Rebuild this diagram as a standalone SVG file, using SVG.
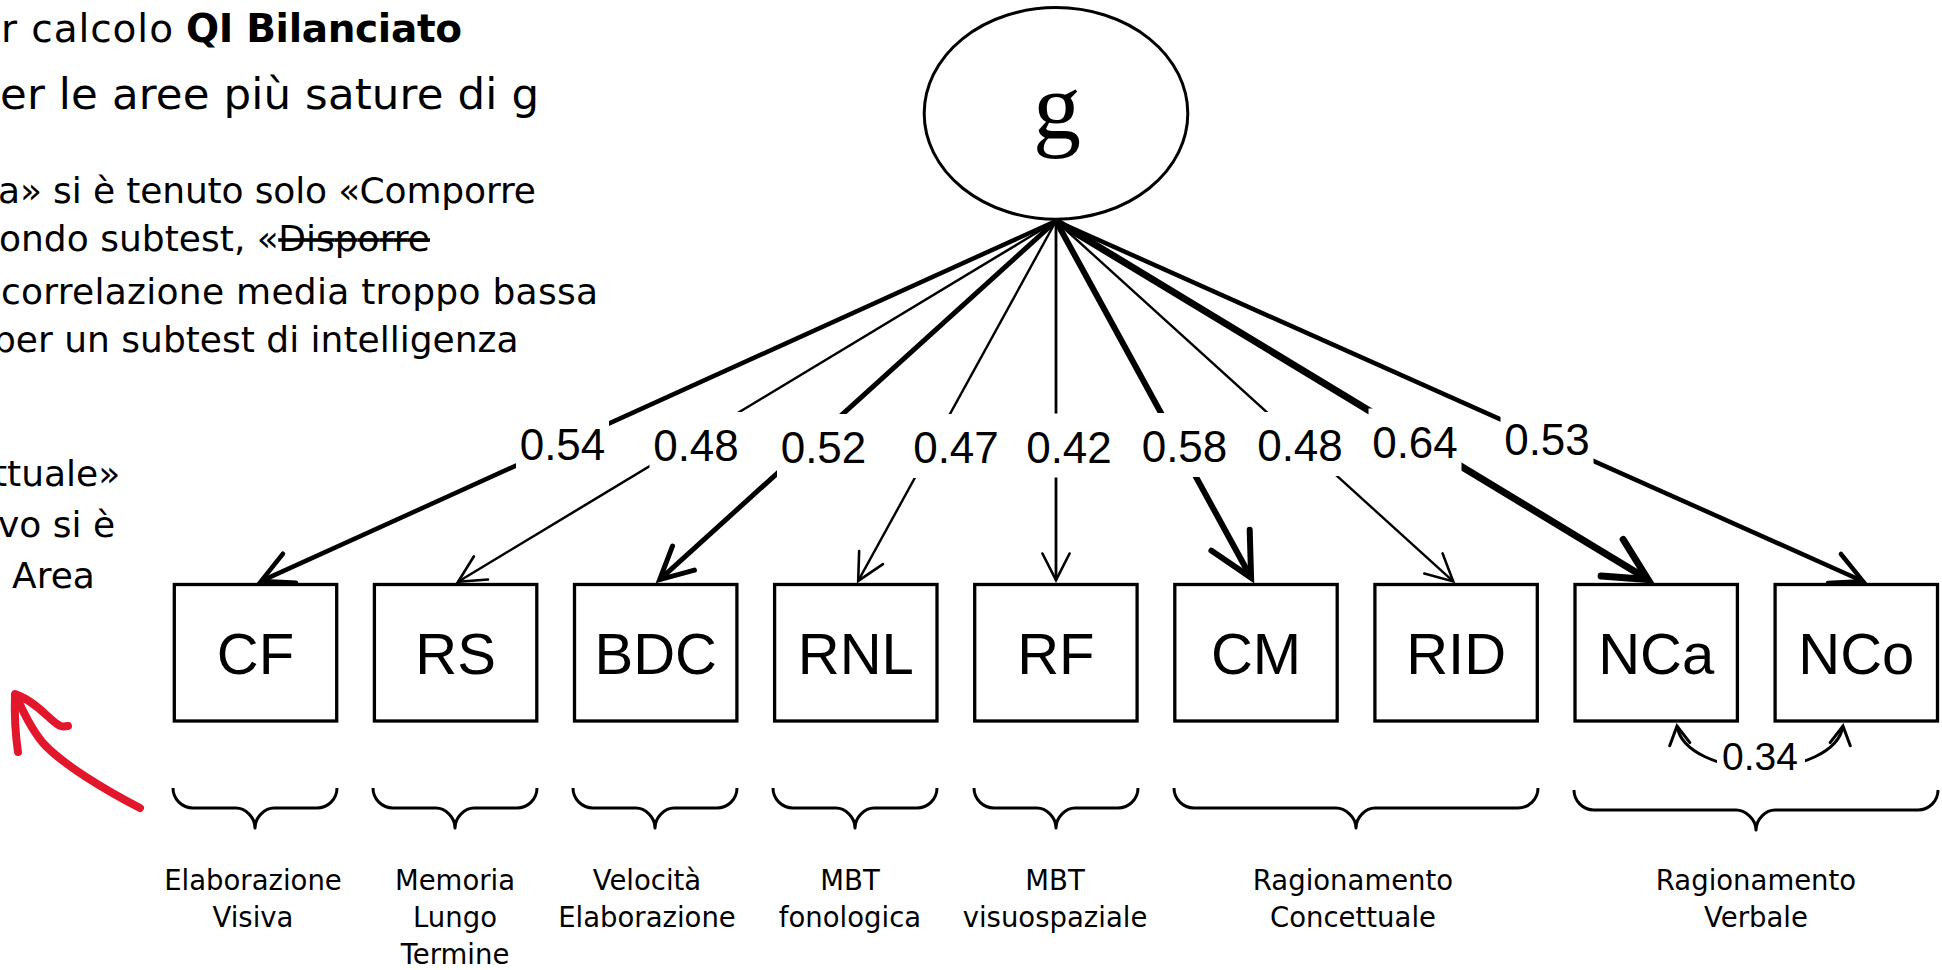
<svg xmlns="http://www.w3.org/2000/svg" width="1942" height="970" viewBox="0 0 1942 970">
<style>
  .note{font-family:"DejaVu Sans","Liberation Sans",sans-serif;font-size:36px;fill:#000}
  .title1{font-family:"DejaVu Sans","Liberation Sans",sans-serif;font-size:39px;fill:#000}
  .title2{font-family:"DejaVu Sans","Liberation Sans",sans-serif;font-size:43.5px;fill:#000}
  .box{fill:#fff;stroke:#000;stroke-width:3.3}
  .blab{font-family:"Liberation Sans",Arial,sans-serif;font-size:58px;text-anchor:middle;fill:#000}
  .elab{font-family:"Liberation Sans",Arial,sans-serif;font-size:44px;text-anchor:middle;fill:#000}
  .clab{font-family:"Liberation Sans",Arial,sans-serif;font-size:39px;text-anchor:middle;fill:#000}
  .mask{fill:#fff}
  .edge{fill:none;stroke:#000}
  .brace{fill:none;stroke:#000;stroke-width:3;stroke-linejoin:round}
  .area{font-family:"DejaVu Sans","Liberation Sans",sans-serif;font-size:27.5px;text-anchor:middle;fill:#000}
  .pen{fill:none;stroke:#E3172B;stroke-width:8;stroke-linecap:round;stroke-linejoin:round}
</style>
<defs>
  <marker id="hS" markerUnits="userSpaceOnUse" orient="auto" overflow="visible" refX="0" refY="0">
    <path d="M-26.7,-13.6L0,0L-26.7,13.6" fill="none" stroke="#000" stroke-width="2.6" stroke-linecap="round"/>
  </marker>
  <marker id="hM" markerUnits="userSpaceOnUse" orient="auto" overflow="visible" refX="0" refY="0">
    <path d="M-31.2,-15.9L0,0L-31.2,15.9" fill="none" stroke="#000" stroke-width="4.5" stroke-linecap="round"/>
  </marker>
  <marker id="hB" markerUnits="userSpaceOnUse" orient="auto" overflow="visible" refX="0" refY="0">
    <path d="M-32.1,-16.3L0,0L-32.1,16.3" fill="none" stroke="#000" stroke-width="5" stroke-linecap="round"/>
  </marker>
  <marker id="hL" markerUnits="userSpaceOnUse" orient="auto" overflow="visible" refX="0" refY="0">
    <path d="M-42.8,-21.8L0,0L-42.8,21.8" fill="none" stroke="#000" stroke-width="6" stroke-linecap="round"/>
  </marker>
  <marker id="hX" markerUnits="userSpaceOnUse" orient="auto" overflow="visible" refX="0" refY="0">
    <path d="M-41.9,-21.3L0,0L-41.9,21.3" fill="none" stroke="#000" stroke-width="7" stroke-linecap="round"/>
  </marker>
  <marker id="hC" markerUnits="userSpaceOnUse" orient="auto-start-reverse" overflow="visible" refX="0" refY="0">
    <path d="M-18.4,-10.2L0,0L-18.4,10.2" fill="none" stroke="#000" stroke-width="3" stroke-linecap="round"/>
  </marker>
</defs>

<rect width="1942" height="970" fill="#fff"/>

<!-- notes on the left -->
<g id="notes">
  <text class="title1" x="1" y="42" textLength="172">r calcolo</text>
  <text class="title1" x="186" y="42" font-weight="bold" textLength="276">QI Bilanciato</text>
  <text class="title2" x="0" y="109" textLength="539">er le aree più sature di g</text>
  <text class="note" x="-2" y="203" textLength="538">a» si è tenuto solo «Comporre</text>
  <text class="note" x="-1" y="251" textLength="431">ondo subtest, «<tspan text-decoration="line-through">Disporre</tspan></text>
  <text class="note" x="1" y="304" textLength="597">correlazione media troppo bassa</text>
  <text class="note" x="-7" y="352">per un subtest di intelligenza</text>
  <text class="note" x="-7" y="486">ttuale»</text>
  <text class="note" x="-2" y="537">vo si è</text>
  <text class="note" x="12" y="588">Area</text>
</g>

<!-- hand-drawn pointer -->
<g id="pointer">
  <path class="pen" d="M140,808 C105,790 62,764 43,743 C33,731 22,711 16,695"/>
  <path class="pen" d="M15,696 Q14,725 18,752"/>
  <path class="pen" d="M15,694 C32,700 44,713 52,720 S62,727 68,726"/>
</g>

<!-- loadings from g -->
<g id="connectors">
  <line class="edge" x1="1056" y1="221" x2="261.1" y2="581.1" stroke-width="4.5" marker-end="url(#hM)"/>
  <line class="edge" x1="1056" y1="221" x2="458.1" y2="581.7" stroke-width="2.5" marker-end="url(#hS)"/>
  <line class="edge" x1="1056" y1="221" x2="659.7" y2="579.6" stroke-width="5" marker-end="url(#hB)"/>
  <line class="edge" x1="1056" y1="221" x2="858.2" y2="580.9" stroke-width="2.4" marker-end="url(#hS)"/>
  <line class="edge" x1="1056" y1="221" x2="1056" y2="580.2" stroke-width="2.8" marker-end="url(#hS)"/>
  <line class="edge" x1="1056" y1="221" x2="1251.1" y2="577.7" stroke-width="6" marker-end="url(#hL)"/>
  <line class="edge" x1="1056" y1="221" x2="1453.2" y2="581.4" stroke-width="2.4" marker-end="url(#hS)"/>
  <line class="edge" x1="1056" y1="221" x2="1648" y2="579.4" stroke-width="7" marker-end="url(#hX)"/>
  <line class="edge" x1="1056" y1="221" x2="1862.9" y2="581.2" stroke-width="4.5" marker-end="url(#hM)"/>
  <!-- residual covariance NCa <-> NCo -->
  <path class="edge" d="M1677,726 C1681,752 1720,768 1760,768 C1800,768 1839,752 1843,726" stroke-width="3" marker-start="url(#hC)" marker-end="url(#hC)"/>

  <g id="edge-labels">
    <rect class="mask" x="516" y="411" width="93" height="64"/>
    <rect class="mask" x="649.5" y="412" width="93" height="64"/>
    <rect class="mask" x="777" y="414" width="93" height="64"/>
    <rect class="mask" x="909.5" y="414" width="93" height="64"/>
    <rect class="mask" x="1022.5" y="413.5" width="93" height="64"/>
    <rect class="mask" x="1138" y="413" width="93" height="64"/>
    <rect class="mask" x="1253.5" y="412" width="93" height="64"/>
    <rect class="mask" x="1368.5" y="408.5" width="93" height="64"/>
    <rect class="mask" x="1500.5" y="406" width="93" height="64"/>
    <rect class="mask" x="1717" y="737" width="88" height="42"/>
    <text class="elab" x="562.5" y="460">0.54</text>
    <text class="elab" x="696" y="461">0.48</text>
    <text class="elab" x="823.5" y="463">0.52</text>
    <text class="elab" x="956" y="463">0.47</text>
    <text class="elab" x="1069" y="462.5">0.42</text>
    <text class="elab" x="1184.5" y="462">0.58</text>
    <text class="elab" x="1300" y="461">0.48</text>
    <text class="elab" x="1415" y="457.5">0.64</text>
    <text class="elab" x="1547" y="455">0.53</text>
    <text class="clab" x="1760" y="770">0.34</text>
  </g>
</g>

<!-- latent factor -->
<g id="node-g">
  <ellipse cx="1056" cy="113.4" rx="131.8" ry="105.8" fill="#fff" stroke="#000" stroke-width="3"/>
  <text x="1057" y="139" font-family="'Liberation Serif','Times New Roman',serif" font-size="96" text-anchor="middle">g</text>
</g>

<!-- subtests -->
<g id="node-CF"><rect class="box" x="174.3" y="584.5" width="162.4" height="136.5"/><text class="blab" x="255.5" y="673.5">CF</text></g>
<g id="node-RS"><rect class="box" x="374.4" y="584.5" width="162.4" height="136.5"/><text class="blab" x="455.6" y="673.5">RS</text></g>
<g id="node-BDC"><rect class="box" x="574.5" y="584.5" width="162.4" height="136.5"/><text class="blab" x="655.7" y="673.5">BDC</text></g>
<g id="node-RNL"><rect class="box" x="774.6" y="584.5" width="162.4" height="136.5"/><text class="blab" x="855.8" y="673.5">RNL</text></g>
<g id="node-RF"><rect class="box" x="974.7" y="584.5" width="162.4" height="136.5"/><text class="blab" x="1055.9" y="673.5">RF</text></g>
<g id="node-CM"><rect class="box" x="1174.8" y="584.5" width="162.4" height="136.5"/><text class="blab" x="1256" y="673.5">CM</text></g>
<g id="node-RID"><rect class="box" x="1374.9" y="584.5" width="162.4" height="136.5"/><text class="blab" x="1456.1" y="673.5">RID</text></g>
<g id="node-NCa"><rect class="box" x="1575" y="584.5" width="162.4" height="136.5"/><text class="blab" x="1656.2" y="673.5">NCa</text></g>
<g id="node-NCo"><rect class="box" x="1775.1" y="584.5" width="162.4" height="136.5"/><text class="blab" x="1856.3" y="673.5">NCo</text></g>

<!-- area braces -->
<g id="braces">
  <path class="brace" d="M173,788 C173,799 182,808 193,808 L236,808 C245,808 255,817 255,828 C255,817 265,808 274,808 L317,808 C328,808 337,799 337,788"/>
  <path class="brace" d="M373,788 C373,799 382,808 393,808 L436,808 C445,808 455,817 455,828 C455,817 465,808 474,808 L517,808 C528,808 537,799 537,788"/>
  <path class="brace" d="M573,788 C573,799 582,808 593,808 L636,808 C645,808 655,817 655,828 C655,817 665,808 674,808 L717,808 C728,808 737,799 737,788"/>
  <path class="brace" d="M773,788 C773,799 782,808 793,808 L836,808 C845,808 855,817 855,828 C855,817 865,808 874,808 L917,808 C928,808 937,799 937,788"/>
  <path class="brace" d="M974,788 C974,799 983,808 994,808 L1037,808 C1046,808 1056,817 1056,828 C1056,817 1066,808 1075,808 L1118,808 C1129,808 1138,799 1138,788"/>
  <path class="brace" d="M1174,788 C1174,799 1183,808 1194,808 L1336,808 C1345,808 1356,817 1356,828 C1356,817 1366,808 1375,808 L1518,808 C1529,808 1538,799 1538,788"/>
  <path class="brace" d="M1574,790 C1574,801 1583,810 1594,810 L1736,810 C1745,810 1756,819 1756,830 C1756,819 1766,810 1775,810 L1918,810 C1929,810 1938,801 1938,790"/>
</g>

<g id="area-labels">
  <text class="area" x="253" y="890">Elaborazione</text>
  <text class="area" x="253" y="927">Visiva</text>
  <text class="area" x="455" y="890">Memoria</text>
  <text class="area" x="455" y="927">Lungo</text>
  <text class="area" x="455" y="964">Termine</text>
  <text class="area" x="647" y="890">Velocità</text>
  <text class="area" x="647" y="927">Elaborazione</text>
  <text class="area" x="850" y="890">MBT</text>
  <text class="area" x="850" y="927">fonologica</text>
  <text class="area" x="1055" y="890">MBT</text>
  <text class="area" x="1055" y="927">visuospaziale</text>
  <text class="area" x="1353" y="890">Ragionamento</text>
  <text class="area" x="1353" y="927">Concettuale</text>
  <text class="area" x="1756" y="890">Ragionamento</text>
  <text class="area" x="1756" y="927">Verbale</text>
</g>
</svg>
